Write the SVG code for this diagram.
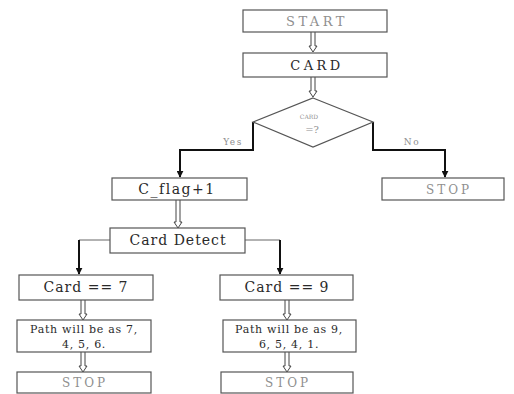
<svg xmlns="http://www.w3.org/2000/svg" xmlns:xlink="http://www.w3.org/1999/xlink" width="514" height="394" viewBox="0 0 514 394">
<style>
.box{fill:#fff;stroke:#555;stroke-width:1.2}
text{font-family:'DejaVu Serif','Liberation Serif',serif;text-anchor:middle;fill:#2a2a2a}
.g{fill:#8f8f8f}
.thick{fill:none;stroke:#111;stroke-width:2}
.thin{fill:none;stroke:#666;stroke-width:1}
.dbl{fill:#fff;stroke:#444;stroke-width:1}
</style>
<defs>
<marker id="ah" viewBox="0 0 10 10" refX="9" refY="5" markerWidth="3.5" markerHeight="3.5" orient="auto"><path d="M0,0 L10,5 L0,10 z" fill="#111"/></marker>
<path id="d20" d="M-2,0 V14 H-4 L0,20 L4,14 H2 V0"/>
<path id="d28" d="M-2,0 V22 H-4 L0,28 L4,22 H2 V0"/>
</defs>
<rect width="514" height="394" fill="#fff"/>
<g id="connectors">
<use xlink:href="#d20" class="dbl" x="313" y="32"/>
<use xlink:href="#d20" class="dbl" x="313" y="77"/>
<path class="thick" d="M253,122 V150 H180 V177" marker-end="url(#ah)"/>
<text class="g" x="233" y="145" font-size="9" letter-spacing="1.5">Yes</text>
<path class="thick" d="M373,122 V150 H445 V177" marker-end="url(#ah)"/>
<text class="g" x="412" y="145" font-size="9" letter-spacing="1.5">No</text>
<use xlink:href="#d28" class="dbl" x="178" y="200"/>
<path class="thin" d="M110,240 H79"/>
<path class="thick" d="M79,240 V274" marker-end="url(#ah)"/>
<path class="thin" d="M245,240 H280"/>
<path class="thick" d="M280,240 V274" marker-end="url(#ah)"/>
<use xlink:href="#d20" class="dbl" x="83" y="300"/>
<use xlink:href="#d20" class="dbl" x="83" y="352"/>
<use xlink:href="#d20" class="dbl" x="287" y="300"/>
<use xlink:href="#d20" class="dbl" x="287" y="352"/>
</g>
<g id="start"><rect class="box" x="243" y="10" width="144" height="22"/><text class="g" x="317" y="26" font-size="13" letter-spacing="3.5">START</text></g>
<g id="card"><rect class="box" x="243" y="53" width="144" height="24"/><text x="317" y="70" font-size="13" letter-spacing="3.5">CARD</text></g>
<g id="decision"><polygon class="box" points="313,98 373,122 313,147 253,122"/><text class="g" x="309" y="119" font-size="6">CARD</text><text class="g" x="312" y="133" font-size="10">=?</text></g>
<g id="cflag"><rect class="box" x="112" y="178" width="135" height="22"/><text x="177" y="194" font-size="14" letter-spacing="1.5">C_flag+1</text></g>
<g id="stop-no"><rect class="box" x="382" y="178" width="122" height="22"/><text class="g" x="449" y="194" font-size="12" letter-spacing="3">STOP</text></g>
<g id="carddetect"><rect class="box" x="110" y="228" width="135" height="25"/><text x="178" y="245" font-size="14" letter-spacing="1">Card Detect</text></g>
<g id="card7"><rect class="box" x="19" y="275" width="134" height="25"/><text x="86" y="292" font-size="14" letter-spacing="1">Card == 7</text></g>
<g id="path7"><rect class="box" x="17" y="320" width="134" height="32"/><text x="84" y="333" font-size="11" letter-spacing="0.7">Path will be as 7,</text><text x="84" y="348" font-size="11" letter-spacing="0.7">4, 5, 6.</text></g>
<g id="stop7"><rect class="box" x="17" y="372" width="134" height="21"/><text class="g" x="85" y="387" font-size="12" letter-spacing="3">STOP</text></g>
<g id="card9"><rect class="box" x="220" y="275" width="133" height="25"/><text x="287" y="292" font-size="14" letter-spacing="1">Card == 9</text></g>
<g id="path9"><rect class="box" x="223" y="320" width="133" height="32"/><text x="289" y="333" font-size="11" letter-spacing="0.7">Path will be as 9,</text><text x="289" y="348" font-size="11" letter-spacing="0.7">6, 5, 4, 1.</text></g>
<g id="stop9"><rect class="box" x="221" y="372" width="132" height="21"/><text class="g" x="288" y="387" font-size="12" letter-spacing="3">STOP</text></g>
</svg>
